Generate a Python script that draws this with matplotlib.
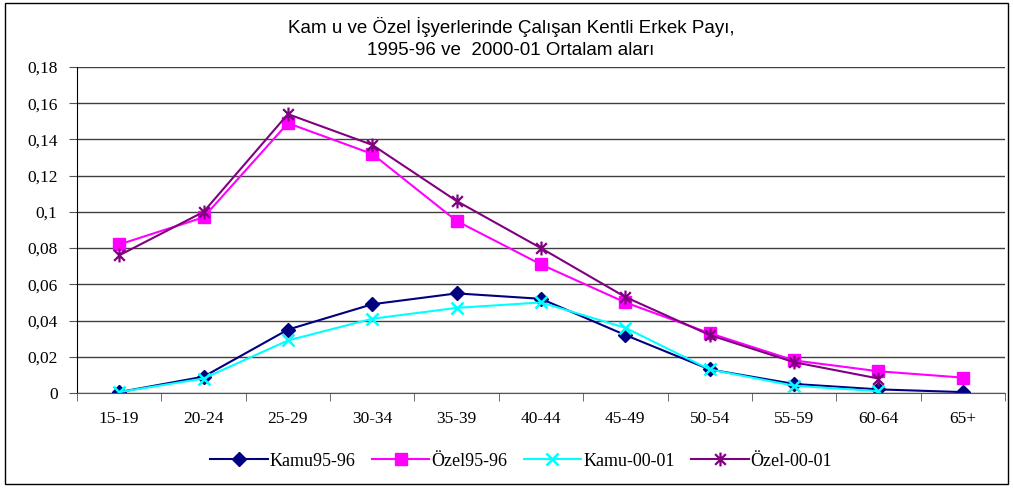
import numpy as np
import matplotlib
matplotlib.use("Agg")
import matplotlib.pyplot as plt
from matplotlib.path import Path
from matplotlib.patches import Rectangle

categories = ["15-19", "20-24", "25-29", "30-34", "35-39", "40-44",
              "45-49", "50-54", "55-59", "60-64", "65+"]

kamu_95 = [0.0005, 0.009, 0.035, 0.049, 0.055, 0.052, 0.032, 0.013, 0.005, 0.002, 0.0005]
ozel_95 = [0.082, 0.097, 0.149, 0.132, 0.095, 0.071, 0.050, 0.033, 0.018, 0.012, 0.0085]
kamu_00 = [0.0005, 0.008, 0.029, 0.041, 0.047, 0.050, 0.036, 0.013, 0.004, 0.001, np.nan]
ozel_00 = [0.076, 0.100, 0.154, 0.137, 0.106, 0.080, 0.053, 0.032, 0.017, 0.008, np.nan]

y_ticks = [0, 0.02, 0.04, 0.06, 0.08, 0.1, 0.12, 0.14, 0.16, 0.18]
y_labels = ["0", "0,02", "0,04", "0,06", "0,08", "0,1", "0,12", "0,14", "0,16", "0,18"]

title = "Kam u ve Özel İşyerlerinde Çalışan Kentli Erkek Payı,\n1995-96 ve  2000-01 Ortalam aları"

# asterisk marker like excel: X plus vertical bar
star = Path([(-1, -1), (1, 1), (-1, 1), (1, -1), (0, -1.3), (0, 1.3)],
            [Path.MOVETO, Path.LINETO, Path.MOVETO, Path.LINETO, Path.MOVETO, Path.LINETO])

fig = plt.figure(figsize=(10.13, 4.88), dpi=100)
fig.patches.append(Rectangle((0.005, 0.008), 0.99, 0.985, transform=fig.transFigure,
                             fill=False, edgecolor="black", linewidth=1.0))

ax = fig.add_axes([77 / 1013, 1 - 393 / 488, (1005 - 77) / 1013, (393 - 67) / 488])
x = np.arange(len(categories))

ax.plot(x, kamu_95, color="#000080", lw=1.5, marker="D", ms=7, label="Kamu95-96")
ax.plot(x, ozel_95, color="#FF00FF", lw=1.5, marker="s", ms=8, label="Özel95-96")
ax.plot(x, kamu_00, color="#00FFFF", lw=1.5, marker="x", ms=9, mew=1.8, label="Kamu-00-01")
ax.plot(x, ozel_00, color="#800080", lw=1.5, marker=star, ms=10, mew=1.6, label="Özel-00-01")

ax.set_xlim(-0.5, len(categories) - 0.5)
ax.set_ylim(0, 0.18)
ax.set_yticks(y_ticks)
ax.set_yticklabels(y_labels, fontfamily="Liberation Serif", fontsize=12.5)
ax.set_xticks(x)
ax.set_xticklabels(categories, fontfamily="Liberation Serif", fontsize=12.5)
ax.set_xticks(np.arange(-0.5, len(categories), 1), minor=True)
ax.tick_params(axis="x", which="major", length=0, pad=13)
ax.tick_params(axis="x", which="minor", length=6, direction="out", color="#555555")
ax.tick_params(axis="y", length=6, direction="out", color="#555555", pad=8)

ax.grid(axis="y", color="#404040", lw=1.0)
ax.set_axisbelow(True)
for s in ["top", "right"]:
    ax.spines[s].set_visible(False)
ax.spines["left"].set_color("black")
ax.spines["bottom"].set_color("#555555")

fig.text(511 / 1013, 1 - 38 / 488, title, ha="center", va="center",
         fontfamily="Liberation Sans", fontsize=13.5, linespacing=1.35)

fig.legend(loc="center", bbox_to_anchor=(521 / 1013, 1 - 461 / 488), ncol=4, frameon=False,
           prop={"family": "Liberation Serif", "size": 13}, handlelength=3.2,
           handletextpad=0.1, columnspacing=0.9)

fig.savefig("out.png", dpi=100)
